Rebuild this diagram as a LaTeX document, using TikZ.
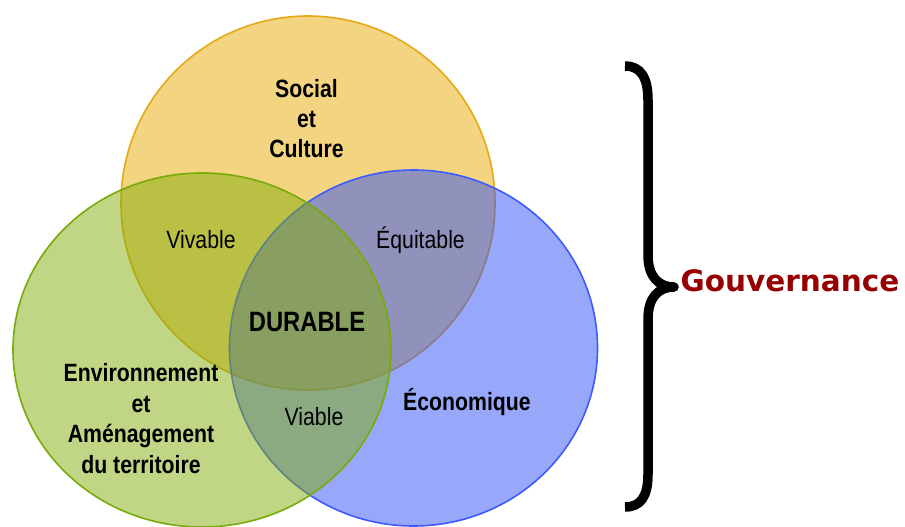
\documentclass[tikz,border=0pt]{standalone}
\usepackage{fontspec}
\newfontfamily\narrow[FakeStretch=0.85]{Liberation Sans}
\newfontfamily\gouvfont{DejaVu Sans}
\definecolor{topfill}{RGB}{243,212,128}
\definecolor{topdraw}{RGB}{230,168,23}
\definecolor{bluefill}{RGB}{47,81,247}
\definecolor{bluedraw}{RGB}{61,90,254}
\definecolor{greenfill}{RGB}{129,173,9}
\definecolor{greendraw}{RGB}{120,170,10}
\definecolor{gouvred}{RGB}{150,0,0}
\tikzset{
  setcircle/.style={line width=1.6bp},
  biglabel/.style={font=\narrow\bfseries\fontsize{25bp}{30.4bp}\selectfont, align=center, inner sep=0pt},
  smalllabel/.style={font=\narrow\fontsize{25bp}{30bp}\selectfont, inner sep=0pt, anchor=base},
  corelabel/.style={font=\narrow\bfseries\fontsize{28bp}{32bp}\selectfont, inner sep=0pt, anchor=base},
  gouvlabel/.style={font=\gouvfont\bfseries\fontsize{29.5bp}{34bp}\selectfont, text=gouvred, inner sep=0pt, anchor=base}
}
\begin{document}
\begin{tikzpicture}[x=1bp,y=-1bp]
\useasboundingbox (0,0) rectangle (905,527);
% circles
\path[setcircle, fill=topfill, draw=topdraw] (308,203) circle [radius=187bp];
\path[setcircle, fill=bluefill, fill opacity=0.5, draw=bluedraw, draw opacity=1] (413.5,348) ellipse [x radius=184bp, y radius=178bp];
\path[setcircle, fill=greenfill, fill opacity=0.5, draw=greendraw, draw opacity=1] (202,350) ellipse [x radius=189bp, y radius=177bp];
% labels
\node[biglabel] (social) at (306.5,118.5) {Social\\et\\Culture};
\node[biglabel] (env) at (141,418.5) {Environnement\\et\\Aménagement\\du territoire};
\node[biglabel, anchor=base] (eco) at (467,410) {Économique};
\node[smalllabel] (vivable) at (201,249) {Vivable};
\node[smalllabel] (equitable) at (420.5,249) {Équitable};
\node[smalllabel] (viable) at (314,425) {Viable};
\node[corelabel] (durable) at (307,332) {DURABLE};
% brace
\draw[line width=9.5bp, line join=round] (625,66) .. controls (641,66) and (648,78) .. (648,100) -- (648,255) .. controls (648,276) and (658,287) .. (674,287) .. controls (658,287) and (648,298) .. (648,319) -- (648,474) .. controls (648,496) and (641,507) .. (625,507);
\node[gouvlabel] (gouv) at (790,292) {Gouvernance};
\end{tikzpicture}
\end{document}
